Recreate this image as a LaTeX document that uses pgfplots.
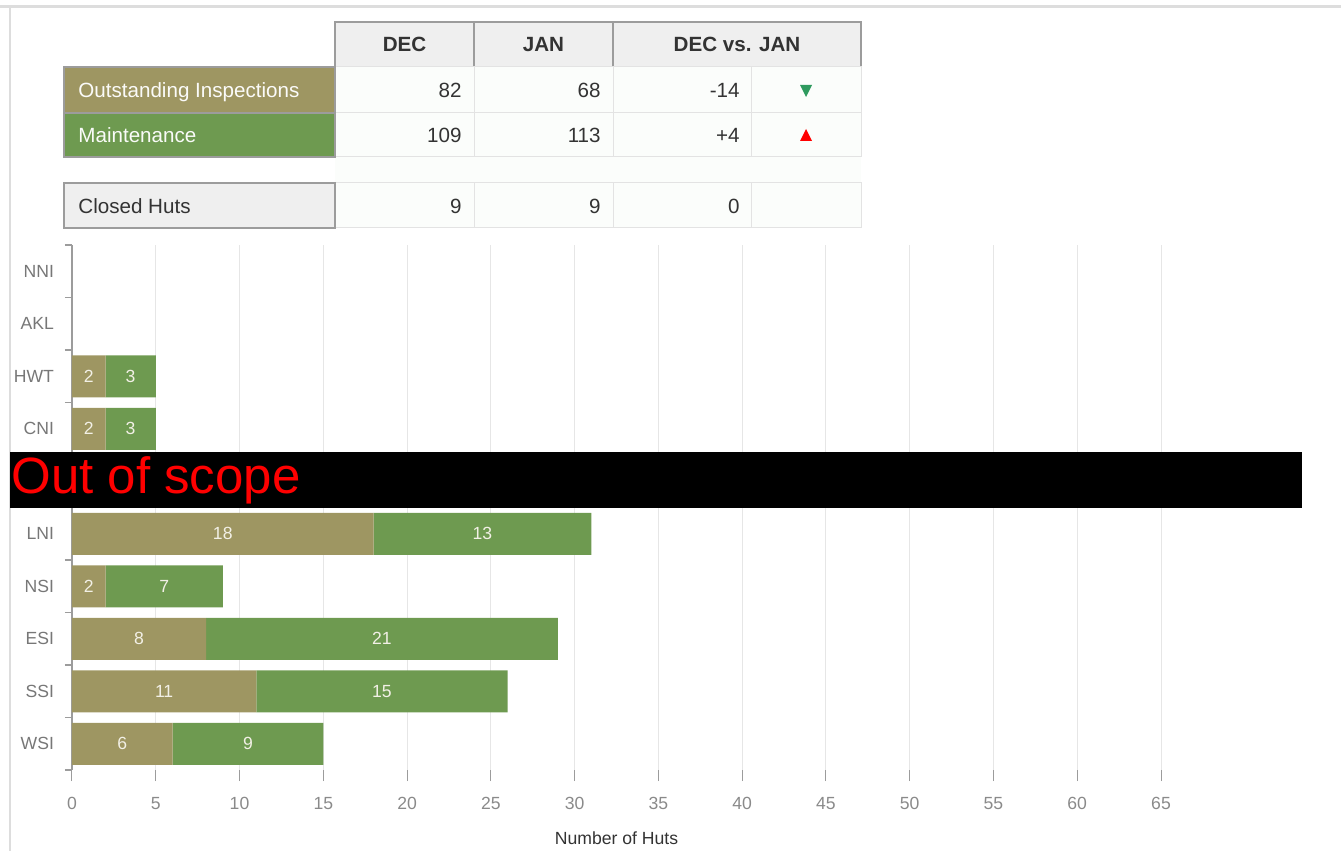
\documentclass[border=0pt]{standalone}
\usepackage{pgfplots}
\pgfplotsset{compat=1.18}
\usepackage{pgfplotstable}
\usepackage{fontspec}
\setmainfont{Liberation Sans}
\definecolor{insp}{HTML}{9E9662}
\definecolor{maint}{HTML}{6E9A50}
\definecolor{hdr}{HTML}{EFEFEF}
\definecolor{hdrline}{HTML}{9C9C9C}
\definecolor{cellfill}{HTML}{FBFDFB}
\definecolor{cellline}{HTML}{E3E3E3}
\definecolor{frame}{HTML}{DDDDDD}
\definecolor{txt}{HTML}{333333}
\definecolor{tgreen}{HTML}{2E9A5E}
\definecolor{ticklab}{HTML}{8A8A8A}
\definecolor{ylab}{HTML}{777777}
\definecolor{gridc}{HTML}{E6E6E6}
\definecolor{barlab}{HTML}{F2F0E6}
\newcommand\tabfont{\fontsize{10.3}{12}\selectfont}
\newcommand\axfont{\fontsize{8.8}{10}\selectfont}

\pgfplotstableread{
idx cat o g
0 NNI 0 0
1 AKL 0 0
2 HWT 2 3
3 CNI 2 3
4 ENI 19 42
5 LNI 18 13
6 NSI 2 7
7 ESI 8 21
8 SSI 11 15
9 WSI 6 9
}\huts

\pgfplotstableread{
x y v
1 2 2
3.5 2 3
1 3 2
3.5 3 3
9 5 18
24.5 5 13
1 6 2
5.5 6 7
4 7 8
18.5 7 21
5.5 8 11
18.5 8 15
3 9 6
10.5 9 9
}\labs

\pgfplotsset{
  hutaxis/.style={
    at={(36pt,-385pt)}, anchor=south west,
    scale only axis, width=544.5pt, height=262.5pt,
    xmin=0, xmax=65, ymin=-0.5, ymax=9.5, y dir=reverse,
  }
}

\begin{document}
\begin{tikzpicture}
\begin{scope}[x=0.5pt,y=-0.5pt]
\useasboundingbox (0,0) rectangle (1341,851);
\draw[color=frame, line width=1.5pt] (0,7) -- (1341,7);
\draw[color=frame, line width=1pt] (10,7) -- (10,851);
\end{scope}

\begin{axis}[hutaxis,
  xbar stacked, bar width=0.8,
  axis x line*=bottom, axis y line*=left,
  x axis line style={draw=none},
  y axis line style={color=hdrline, line width=0.6pt, -},
  xtick={0,5,...,65},
  ytick={0,1,2,3,5,6,7,8,9},
  yticklabels={NNI,AKL,HWT,CNI,LNI,NSI,ESI,SSI,WSI},
  minor ytick={-0.5,0.5,...,9.5},
  tick align=outside,
  major tick length=5.5pt, minor tick length=3.5pt,
  every major y tick/.style={draw=none},
  every minor y tick/.style={color=hdrline, line width=0.6pt},
  every major x tick/.style={color=hdrline, line width=0.5pt},
  xmajorgrids, grid style={color=gridc, line width=0.5pt},
  /pgf/number format/assume math mode=true,
  xticklabel style={font=\axfont, text=ticklab, yshift=-4.5pt},
  yticklabel style={font=\axfont, text=ylab},
  xlabel={Number of Huts},
  every axis x label/.style={at={(axis description cs:0.5,0)}, anchor=center, yshift=-34pt, font=\axfont, text=txt},
]
\addplot[fill=insp, draw=none] table[x=o, y=idx]{\huts};
\addplot[fill=maint, draw=none] table[x=g, y=idx]{\huts};
\end{axis}

\begin{axis}[hutaxis, hide axis]
\addplot[draw=none, mark=none, nodes near coords, point meta=explicit symbolic,
  nodes near coords style={anchor=center, font=\axfont, text=barlab}]
  table[x=x, y=y, meta=v]{\labs};
\end{axis}

\begin{scope}[x=0.5pt,y=-0.5pt,
  cellt/.style={text height=7.4pt, text depth=0pt, inner sep=0pt, font=\tabfont}]
% header
\foreach \a/\b in {335/474, 474/613, 613/861}
  \filldraw[fill=hdr, draw=hdrline, line width=0.8pt] (\a,22) rectangle (\b,67);
\node[cellt, text=txt, font=\tabfont\bfseries] at (404.5,44.5) {DEC};
\node[cellt, text=txt, font=\tabfont\bfseries] at (543.5,44.5) {JAN};
\node[cellt, text=txt, font=\tabfont\bfseries] at (737,44.5) {DEC vs. JAN};
% gap row
\fill[color=cellfill] (335,157) rectangle (861,183);
% data cells
\foreach \t/\u in {67/113, 113/157, 183/228}
  \foreach \a/\b in {335/474, 474/613, 613/751, 751/861}
    \filldraw[fill=cellfill, draw=cellline, line width=0.5pt] (\a,\t) rectangle (\b,\u);
% label cells
\filldraw[fill=insp, draw=hdrline, line width=0.8pt] (64,67) rectangle (335,113);
\filldraw[fill=maint, draw=hdrline, line width=0.8pt] (64,113) rectangle (335,157);
\filldraw[fill=hdr, draw=hdrline, line width=0.8pt] (64,183) rectangle (335,228);
\node[cellt, anchor=west, text=white!96!insp] at (78,90.5) {Outstanding Inspections};
\node[cellt, anchor=west, text=white!96!maint] at (78,135.5) {Maintenance};
\node[cellt, anchor=west, text=txt] at (78,206) {Closed Huts};
% values
\node[cellt, anchor=east, text=txt] at (462,90.5) {82};
\node[cellt, anchor=east, text=txt] at (601,90.5) {68};
\node[cellt, anchor=east, text=txt] at (740,90.5) {-14};
\node[cellt, anchor=east, text=txt] at (462,135.5) {109};
\node[cellt, anchor=east, text=txt] at (601,135.5) {113};
\node[cellt, anchor=east, text=txt] at (740,135.5) {+4};
\node[cellt, anchor=east, text=txt] at (462,206) {9};
\node[cellt, anchor=east, text=txt] at (601,206) {9};
\node[cellt, anchor=east, text=txt] at (740,206) {0};
\fill[tgreen] (800,85) -- (812,85) -- (806,97) -- cycle;
\fill[red] (800,141) -- (812,141) -- (806,129) -- cycle;
% out of scope band
\fill[black] (10,452) rectangle (1302,508);
\node[anchor=west, inner sep=0pt, text=red, font=\fontsize{25.5}{28}\selectfont, text height=18.4pt, text depth=0pt] at (11,475) {Out of scope};
\end{scope}
\end{tikzpicture}
\end{document}
